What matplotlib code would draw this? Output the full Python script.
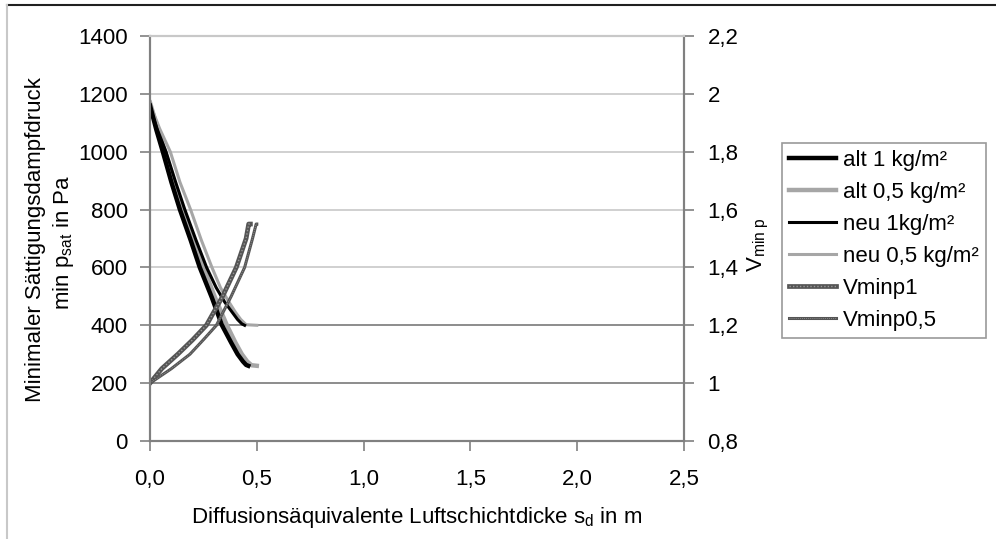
import matplotlib
matplotlib.use('Agg')
import matplotlib.pyplot as plt
from matplotlib.lines import Line2D
from matplotlib.legend_handler import HandlerTuple

plt.rcParams['font.family'] = ['Liberation Sans', 'DejaVu Sans']
plt.rcParams['mathtext.fontset'] = 'custom'
plt.rcParams['mathtext.rm'] = 'Liberation Sans'
plt.rcParams['mathtext.it'] = 'Liberation Sans'

# Sättigungsdampfdruck-Kurven (linke Achse, Pa)
alt1_x = [0.0, 0.03, 0.06, 0.10, 0.14, 0.19, 0.233, 0.29, 0.337, 0.38, 0.41, 0.435, 0.45, 0.46]
alt1_y = [1160, 1075, 1000, 895, 800, 695, 600, 495, 400, 340, 300, 275, 263, 260]
alt05_x = [0.0, 0.035, 0.07, 0.11, 0.155, 0.205, 0.25, 0.305, 0.36, 0.40, 0.43, 0.455, 0.475, 0.50]
alt05_y = [1170, 1080, 1000, 895, 800, 695, 600, 495, 400, 340, 300, 275, 262, 260]
neu1_x = [0.0, 0.035, 0.075, 0.12, 0.163, 0.215, 0.265, 0.31, 0.35, 0.385, 0.41, 0.43, 0.443]
neu1_y = [1150, 1075, 1000, 895, 800, 695, 600, 530, 480, 445, 420, 405, 400]
neu05_x = [0.0, 0.045, 0.095, 0.14, 0.19, 0.24, 0.29, 0.33, 0.37, 0.40, 0.425, 0.45, 0.50]
neu05_y = [1165, 1080, 1000, 895, 800, 695, 600, 530, 480, 445, 420, 402, 400]

# Verhältnis V_min p (rechte Achse)
vminp1_x = [0.0, 0.055, 0.13, 0.20, 0.264, 0.34, 0.404, 0.45, 0.462, 0.47]
vminp1_y = [1.0, 1.05, 1.1, 1.15, 1.2, 1.3, 1.4, 1.5, 1.55, 1.55]
vminp05_x = [0.0, 0.10, 0.187, 0.25, 0.311, 0.38, 0.443, 0.48, 0.497, 0.50]
vminp05_y = [1.0, 1.05, 1.1, 1.15, 1.2, 1.3, 1.4, 1.5, 1.55, 1.55]

fig = plt.figure(figsize=(9.96, 5.39), dpi=100)
ax = fig.add_axes([150 / 996, 1 - 441 / 539, 534 / 996, 405 / 539])
ax2 = ax.twinx()

axis_col = '#808080'
fs = 16

# Gitterlinien
for v in [600, 800, 1000, 1200]:
    ax.axhline(v, color='#c8c8c8', lw=1.2, zorder=0)
for v in [200, 400]:
    ax.axhline(v, color='#8c8c8c', lw=1.4, zorder=0)

ax.plot(alt1_x, alt1_y, color='black', lw=3.2, zorder=3)
ax.plot(alt05_x, alt05_y, color='#a6a6a6', lw=3.2, zorder=2)
ax.plot(neu1_x, neu1_y, color='black', lw=2.2, zorder=3)
ax.plot(neu05_x, neu05_y, color='#a6a6a6', lw=2.2, zorder=2)

v1_base, = ax2.plot(vminp1_x, vminp1_y, color='#555555', lw=3.4)
v1_dots, = ax2.plot(vminp1_x, vminp1_y, color='#999999', lw=1.0, ls=(0, (1, 1.5)))
v05_base, = ax2.plot(vminp05_x, vminp05_y, color='#555555', lw=2.2)
v05_dots, = ax2.plot(vminp05_x, vminp05_y, color='#999999', lw=0.6, ls=(0, (1, 1.5)))

ax.set_xlim(0, 2.5)
ax.set_ylim(0, 1400)
ax2.set_ylim(0.8, 2.2)

ax.set_xticks([0, 0.5, 1.0, 1.5, 2.0, 2.5])
ax.set_xticklabels(['0,0', '0,5', '1,0', '1,5', '2,0', '2,5'], fontsize=fs)
ax.set_yticks(range(0, 1401, 200))
ax.set_yticklabels([str(v) for v in range(0, 1401, 200)], fontsize=fs)
r_ticks = [0.8, 1.0, 1.2, 1.4, 1.6, 1.8, 2.0, 2.2]
ax2.set_yticks(r_ticks)
ax2.set_yticklabels(['0,8', '1', '1,2', '1,4', '1,6', '1,8', '2', '2,2'], fontsize=fs)

for a in (ax, ax2):
    for s in a.spines.values():
        s.set_color(axis_col)
        s.set_linewidth(1.5)
ax.spines['top'].set_color('#c8c8c8')
ax2.spines['top'].set_color('#c8c8c8')
ax.tick_params(axis='y', direction='out', length=7, width=1.2, color=axis_col, pad=9)
ax.tick_params(axis='x', direction='out', length=7, width=1.2, color=axis_col, pad=13)
ax2.tick_params(axis='y', direction='out', length=7, width=1.2, color=axis_col, pad=10)

ax.set_xlabel(r'Diffusionsäquivalente Luftschichtdicke s$_\mathrm{d}$ in m', fontsize=fs, labelpad=11)
fig.text(35 / 996, 1 - 240 / 539, 'Minimaler Sättigungsdampfdruck', rotation=90,
         ha='center', va='center', fontsize=fs)
fig.text(63 / 996, 1 - 242 / 539, r'min p$_\mathrm{sat}$ in Pa', rotation=90,
         ha='center', va='center', fontsize=fs)
fig.text(758 / 996, 1 - 245 / 539, r'V$_\mathrm{min\ p}$', rotation=90,
         ha='center', va='center', fontsize=fs)

handles = [
    Line2D([], [], color='black', lw=3.2),
    Line2D([], [], color='#a6a6a6', lw=3.2),
    Line2D([], [], color='black', lw=2.2),
    Line2D([], [], color='#a6a6a6', lw=2.2),
    (v1_base, v1_dots),
    (v05_base, v05_dots),
]
labels = ['alt 1 kg/m²', 'alt 0,5 kg/m²', 'neu 1kg/m²', 'neu 0,5 kg/m²', 'Vminp1', 'Vminp0,5']
leg = fig.legend(handles, labels, loc='upper left', bbox_to_anchor=(782 / 996, 1 - 143 / 539),
                 fontsize=fs, frameon=True, fancybox=False, handlelength=2.15,
                 handletextpad=0.3, labelspacing=0.5, borderpad=0.3, borderaxespad=0,
                 handler_map={tuple: HandlerTuple(ndivide=1)})
leg.get_frame().set_edgecolor(axis_col)
leg.get_frame().set_linewidth(1.2)

# Rahmen des Diagrammbereichs
fig.add_artist(Line2D([7 / 996, 1], [1 - 5 / 539, 1 - 5 / 539], color='#202020', lw=1.5))
fig.add_artist(Line2D([7 / 996, 7 / 996], [0, 1 - 5 / 539], color='#c8c8c8', lw=1.5))

fig.savefig('out.png', dpi=100)
